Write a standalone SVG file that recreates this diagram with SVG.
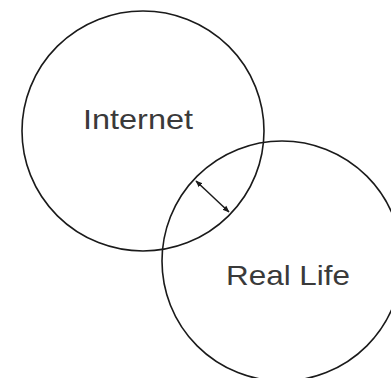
<svg xmlns="http://www.w3.org/2000/svg" width="391" height="378" viewBox="0 0 391 378">
<style>
.c{fill:none;stroke:#1a1a1a;stroke-width:1.6}
.t{font-family:"Liberation Sans",Arial,sans-serif;font-size:28px;fill:#3a3a3a}
.a{stroke:#1a1a1a;stroke-width:1.5;fill:none}
</style>
<defs>
<marker id="ah" viewBox="0 0 10 10" refX="9" refY="5" markerWidth="7" markerHeight="7" orient="auto-start-reverse" markerUnits="userSpaceOnUse">
<path d="M0,1 L10,5 L0,9 z" fill="#1a1a1a"/>
</marker>
</defs>
<rect width="391" height="378" fill="#fff"/>
<g id="internet">
<ellipse class="c" cx="143" cy="131" rx="121" ry="120"/>
<text class="t" x="83" y="129" textLength="110" lengthAdjust="spacingAndGlyphs">Internet</text>
</g>
<g id="reallife">
<circle class="c" cx="282" cy="261" r="120"/>
<text class="t" x="226" y="285" textLength="124" lengthAdjust="spacingAndGlyphs">Real Life</text>
</g>
<g id="connectors">
<line class="a" x1="196" y1="181" x2="229" y2="212" marker-start="url(#ah)" marker-end="url(#ah)"/>
</g>
</svg>
